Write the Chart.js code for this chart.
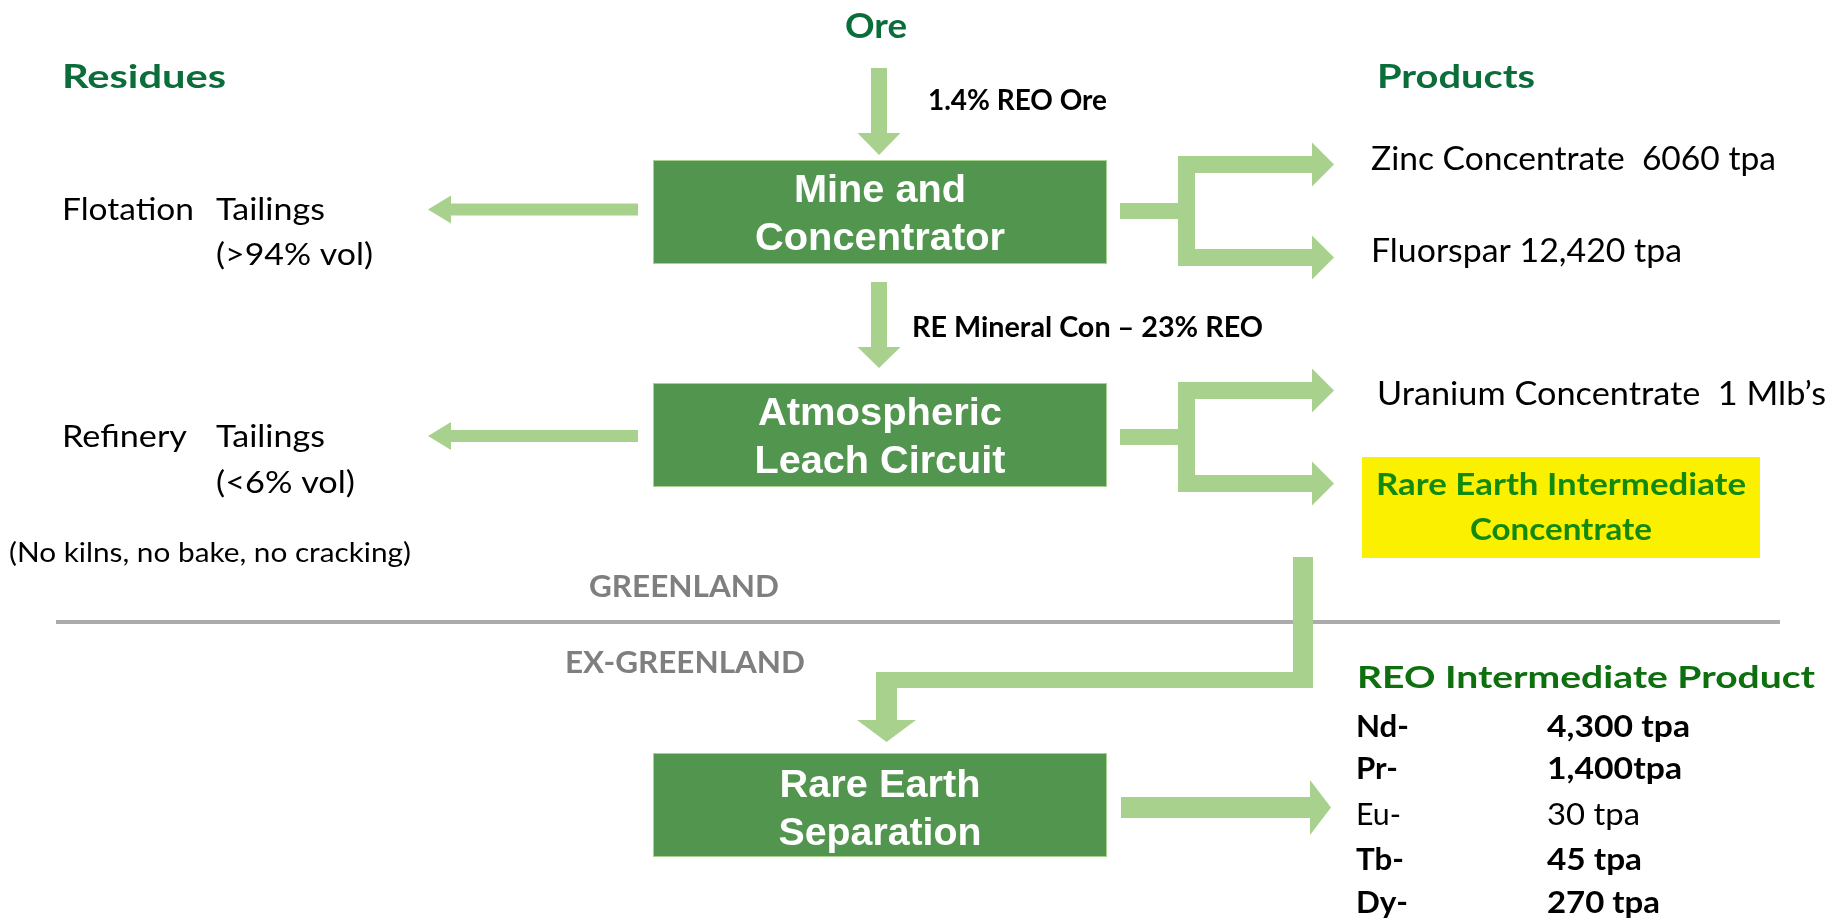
<!DOCTYPE html>
<html>
<head>
<meta charset="utf-8">
<title>Process flow</title>
<script src="https://cdn.jsdelivr.net/npm/chart.js@4.4.1/dist/chart.umd.min.js"></script>
<style>
  html, body { margin: 0; padding: 0; background: #ffffff; }
  #wrap { width: 1833px; height: 920px; }
</style>
</head>
<body>
<div id="wrap"><canvas id="flow"></canvas></div>
<script>
// --- Data ---
const headings = ['Ore', 'Residues', 'Products'];
const processSteps = [['Mine and', 'Concentrator'], ['Atmospheric', 'Leach Circuit'], ['Rare Earth', 'Separation']];
const streamLabels = ['1.4% REO Ore', 'RE Mineral Con \u2013 23% REO'];
const residueNames = ['Flotation', 'Refinery'];
const residueTypes = ['Tailings', 'Tailings'];
const residueShares = ['(>94% vol)', '(<6% vol)'];
const residueNote = '(No kilns, no bake, no cracking)';
const regionLabels = ['GREENLAND', 'EX-GREENLAND'];
const productLines = ['Zinc Concentrate  6060 tpa', 'Fluorspar 12,420 tpa', 'Uranium Concentrate  1 Mlb\u2019s'];
const intermediateLines = ['Rare Earth Intermediate', 'Concentrate'];
const reoTitle = 'REO Intermediate Product';
const reoElements = ['Nd-', 'Pr-', 'Eu-', 'Tb-', 'Dy-'];
const reoTonnage = ['4,300 tpa', '1,400tpa', '30 tpa', '45 tpa', '270 tpa'];
const reoBold = [true, true, false, true, true];

// --- Layout (diagram units, same as the 1833 x 920 frame) ---
const C = {
    box: '#52954f',
    boxEdge: '#a9d18e',
    arrow: '#a9d18e',
    darkGreen: '#0b6e3a',
    reoGreen: '#0d6f0d',
    yellowText: '#12890f',
    yellow: '#faf000',
    grey: '#7f7f7f',
    rule: '#ababab'
};
const SANS = "Lato, 'Open Sans', sans-serif";
const BOXFONT = "'Liberation Sans', Arial, sans-serif";

const boxes = [
    { x0: 653, x1: 1107, y0: 160, y1: 264, base: [202, 250], w: [[172], [250]] },
    { x0: 653, x1: 1107, y0: 383, y1: 487, base: [425, 473], w: [[244], [251]] },
    { x0: 653, x1: 1107, y0: 753, y1: 857, base: [797, 845], w: [[201], [203]] }
];

const ctxOf = chart => chart.ctx;

function drawFlow(chart) {
    const ctx = chart.ctx;
    const xs = chart.scales.x, ys = chart.scales.y;
    const px = v => xs.getPixelForValue(v);
    const py = v => ys.getPixelForValue(v);

    function rect(x0, y0, x1, y1, fill) {
        ctx.fillStyle = fill;
        ctx.fillRect(px(x0), py(y0), px(x1) - px(x0), py(y1) - py(y0));
    }
    function poly(pts, fill) {
        ctx.beginPath();
        pts.forEach((p, i) => i ? ctx.lineTo(px(p[0]), py(p[1])) : ctx.moveTo(px(p[0]), py(p[1])));
        ctx.closePath();
        ctx.fillStyle = fill;
        ctx.fill();
    }
    // horizontal arrow: shaft from xs0 to head base xb, tip at xt
    function hArrow(xs0, xb, xt, yc, shaft, head) {
        rect(Math.min(xs0, xb), yc - shaft / 2, Math.max(xs0, xb), yc + shaft / 2, C.arrow);
        poly([[xb, yc - head / 2], [xt, yc], [xb, yc + head / 2]], C.arrow);
    }
    function vArrow(xc, ys0, yb, yt, shaft, head) {
        rect(xc - shaft / 2, ys0, xc + shaft / 2, yb, C.arrow);
        poly([[xc - head / 2, yb], [xc, yt], [xc + head / 2, yb]], C.arrow);
    }
    function text(str, x, y, o) {
        ctx.save();
        ctx.font = `${o.weight || 'normal'} ${o.size}px ${o.family || SANS}`;
        ctx.fillStyle = o.color || '#000000';
        ctx.textBaseline = 'alphabetic';
        ctx.textAlign = o.align || 'left';
        const m = ctx.measureText(str).width;
        const sx = o.width ? o.width / m : 1;
        ctx.translate(px(x), py(y));
        ctx.scale(sx, 1);
        ctx.fillText(str, 0, 0);
        ctx.restore();
    }

    // white ground
    ctx.fillStyle = '#ffffff';
    ctx.fillRect(0, 0, chart.width, chart.height);

    // divider
    rect(56, 620, 1780, 624, C.rule);

    // process boxes
    boxes.forEach((b, i) => {
        rect(b.x0, b.y0, b.x1, b.y1, C.box);
        ctx.strokeStyle = C.boxEdge;
        ctx.lineWidth = 1;
        ctx.strokeRect(px(b.x0) + 0.5, py(b.y0) + 0.5, px(b.x1) - px(b.x0) - 1, py(b.y1) - py(b.y0) - 1);
        processSteps[i].forEach((line, j) => {
            text(line, (b.x0 + b.x1) / 2, b.base[j], { size: 38, weight: 'bold', family: BOXFONT, color: '#ffffff', align: 'center', width: b.w[j][0] });
        });
    });

    // vertical feed arrows
    vArrow(879, 68, 133, 155, 16, 43);
    vArrow(879, 282, 347, 368, 16, 43);

    // residue arrows
    hArrow(638, 451, 428, 209.5, 12, 28);
    hArrow(638, 451, 428, 436, 12, 28);

    // product branches
    [[211, 156, 266], [437, 382, 492]].forEach(([stubY, top, bot]) => {
        rect(1120, stubY - 8, 1186, stubY + 8, C.arrow);
        rect(1178, top, 1195, bot, C.arrow);
        hArrow(1178, 1312, 1334, top + 8.5, 17, 44);
        hArrow(1178, 1312, 1334, bot - 8.5, 17, 44);
    });

    // intermediate to separation
    rect(1293, 557, 1313, 688, C.arrow);
    rect(876, 672, 1313, 688, C.arrow);
    vArrow(886.5, 672, 720, 742, 21, 59);

    // separation to products
    hArrow(1121, 1310, 1331, 807.5, 21, 55);

    // yellow concentrate box
    rect(1362, 457, 1760, 558, C.yellow);
    text(intermediateLines[0], 1561, 495, { size: 30, weight: 'bold', color: C.yellowText, align: 'center', width: 370 });
    text(intermediateLines[1], 1561, 540, { size: 30, weight: 'bold', color: C.yellowText, align: 'center', width: 182 });

    // headings
    text(headings[0], 876, 38, { size: 35, weight: 'bold', color: C.darkGreen, align: 'center', width: 62 });
    text(headings[1], 62, 88, { size: 32, weight: 'bold', color: C.darkGreen, width: 164 });
    text(headings[2], 1377, 88, { size: 32, weight: 'bold', color: C.darkGreen, width: 158 });

    // stream labels
    text(streamLabels[0], 928, 110, { size: 28, weight: 'bold', width: 179 });
    text(streamLabels[1], 912, 337, { size: 28, weight: 'bold', width: 351 });

    // residues
    const resBase = [[220, 265], [447, 493]];
    const resW = [[132, 109, 157], [125, 109, 139]];
    residueNames.forEach((n, i) => {
        text(n, 62, resBase[i][0], { size: 30, width: resW[i][0] });
        text(residueTypes[i], 216, resBase[i][0], { size: 30, width: resW[i][1] });
        text(residueShares[i], 216, resBase[i][1], { size: 30, width: resW[i][2] });
    });
    text(residueNote, 9, 562, { size: 26, width: 402 });

    // region labels
    text(regionLabels[0], 684, 597, { size: 30, weight: 'bold', color: C.grey, align: 'center', width: 190 });
    text(regionLabels[1], 685, 673, { size: 30, weight: 'bold', color: C.grey, align: 'center', width: 240 });

    // products
    const prodPos = [[1371, 170, 405], [1371, 262, 311], [1377, 405, 449]];
    productLines.forEach((p, i) => {
        text(p, prodPos[i][0], prodPos[i][1], { size: 32, width: prodPos[i][2] });
    });

    // REO table
    text(reoTitle, 1357, 688, { size: 31, weight: 'bold', color: C.reoGreen, width: 458 });
    const rowBase = [737, 779, 825, 870, 913];
    const elW = [53, 42, 45, 48, 52];
    const amtW = [143, 135, 93, 95, 113];
    reoElements.forEach((el, i) => {
        const w = reoBold[i] ? 'bold' : 'normal';
        text(el, 1356, rowBase[i], { size: 31, weight: w, width: elW[i] });
        text(reoTonnage[i], 1547, rowBase[i], { size: 31, weight: w, width: amtW[i] });
    });
}

const flowPlugin = {
    id: 'flowDiagram',
    afterDraw(chart) { drawFlow(chart); }
};

new Chart(document.getElementById('flow').getContext('2d'), {
    type: 'scatter',
    data: { datasets: [{ data: [], pointRadius: 0 }] },
    options: {
        responsive: true,
        maintainAspectRatio: false,
        animation: false,
        layout: { padding: 0 },
        scales: {
            x: { type: 'linear', min: 0, max: 1833, display: false },
            y: { type: 'linear', min: 0, max: 920, reverse: true, display: false }
        },
        plugins: { legend: { display: false }, tooltip: { enabled: false } }
    },
    plugins: [flowPlugin]
});
</script>
</body>
</html>
